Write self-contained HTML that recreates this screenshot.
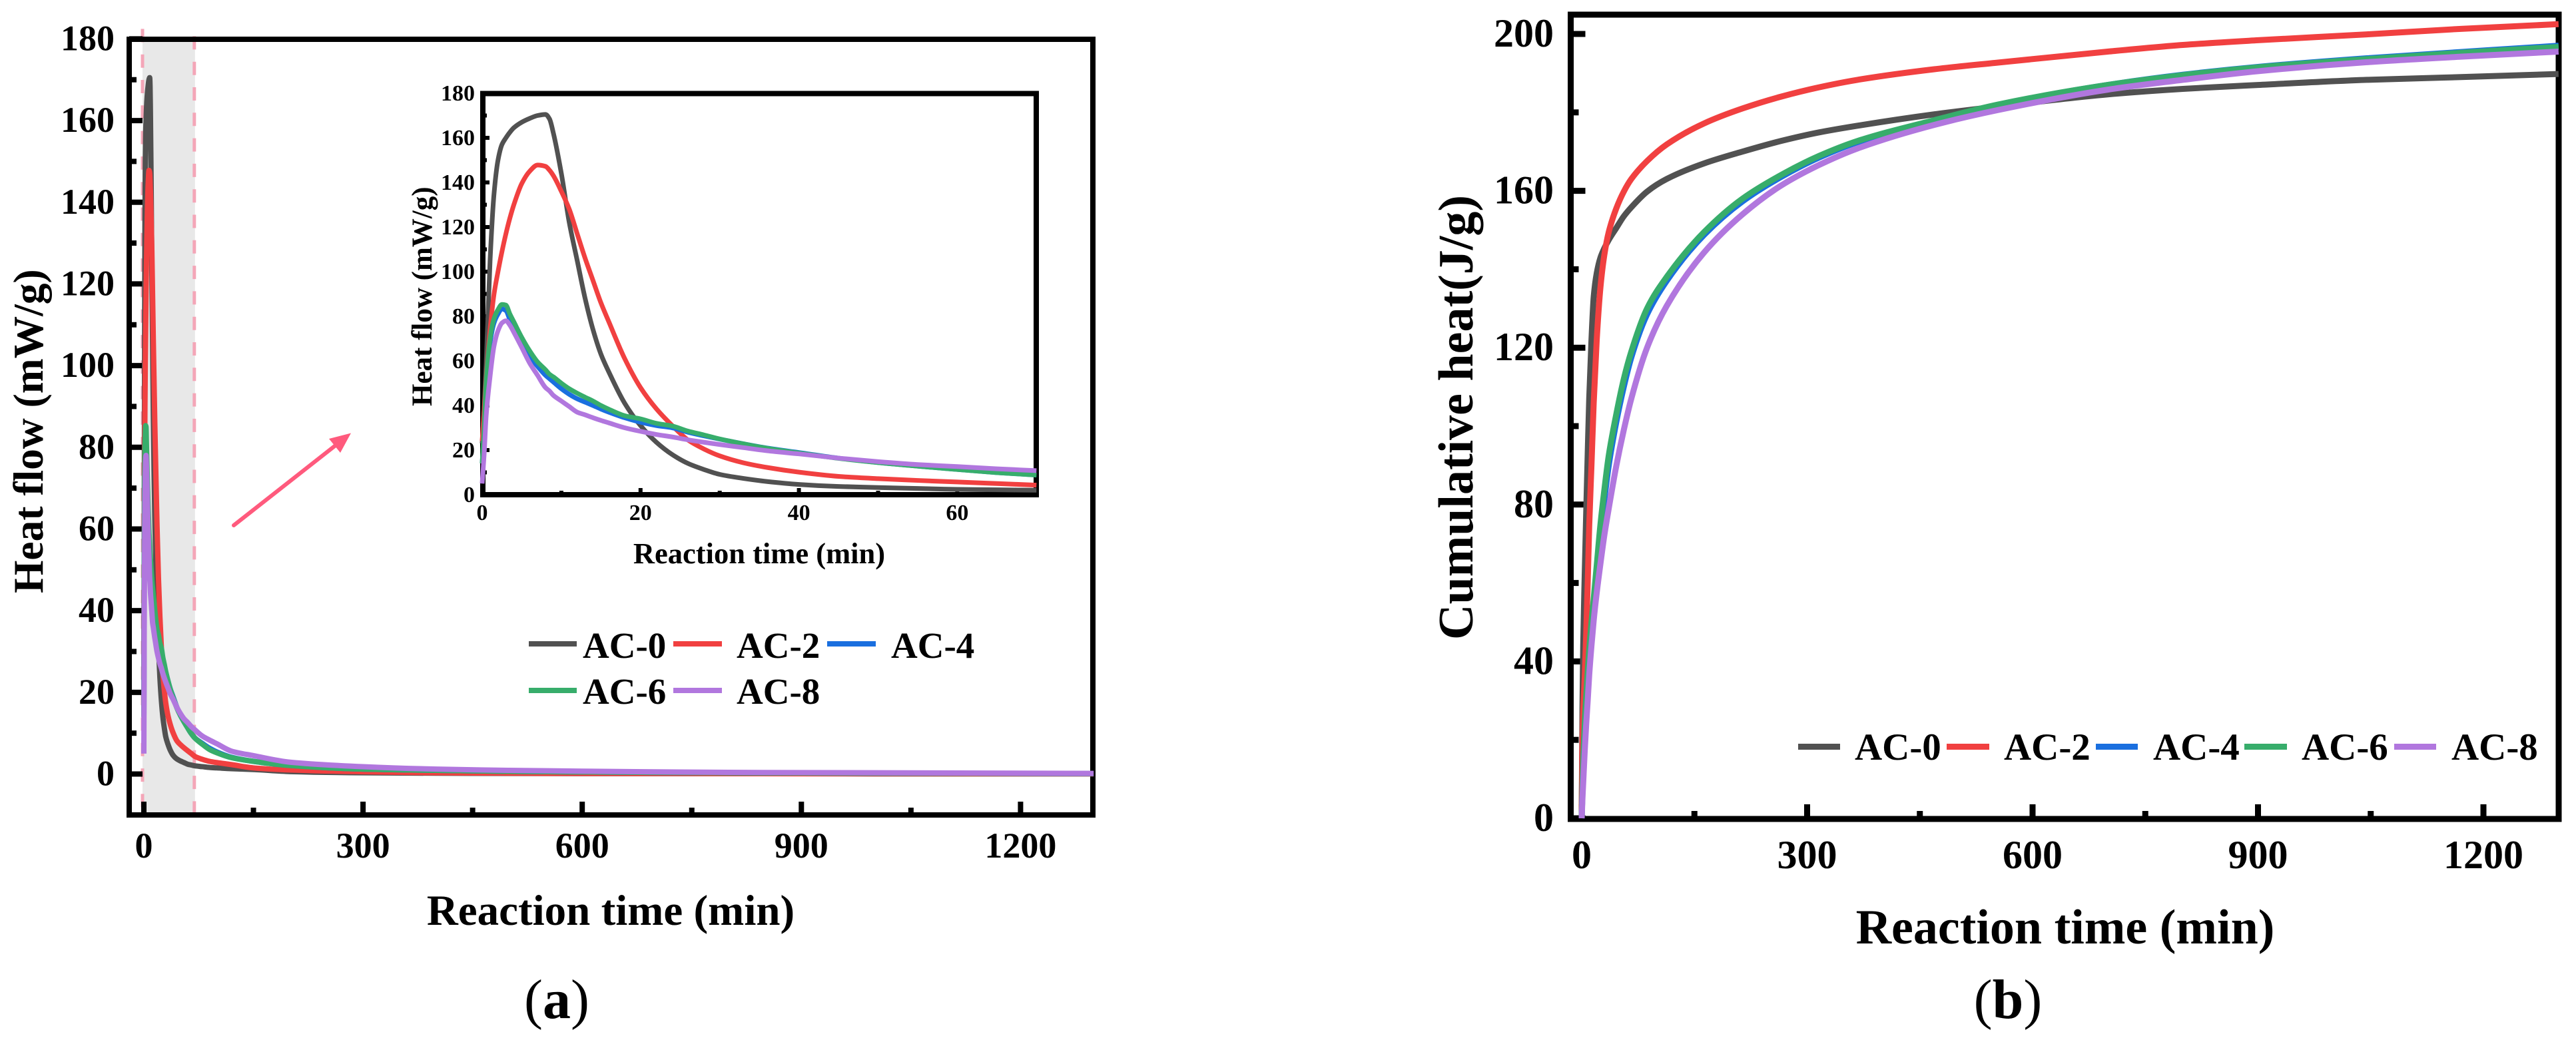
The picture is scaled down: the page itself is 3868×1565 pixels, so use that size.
<!DOCTYPE html>
<html lang="en">
<head>
<meta charset="utf-8">
<title>Heat flow and cumulative heat of AC samples</title>
<style>
html,body{margin:0;padding:0;background:#fff;}
svg{display:block;}
text{font-family:"Liberation Serif","Times New Roman",serif;font-weight:bold;fill:#000;}
</style>
</head>
<body>
<svg id="figure" xmlns="http://www.w3.org/2000/svg" width="3868" height="1565" viewBox="0 0 3868 1565">
  <rect x="0" y="0" width="3868" height="1565" fill="#fff"/>
  <g id="panel-a"></g>
  <g id="panel-inset"></g>
  <g id="panel-b"></g>

  <text x="917" y="1389" font-size="65" text-anchor="middle">Reaction time (min)</text>
  <text transform="translate(64,891) rotate(-90)" font-size="63.5">Heat flow (mW/g)</text>
  <text x="1140" y="846" font-size="44.5" text-anchor="middle">Reaction time (min)</text>
  <text transform="translate(648,610) rotate(-90)" font-size="43">Heat flow (mW/g)</text>
  <text x="3101" y="1417" font-size="74" text-anchor="middle">Reaction time (min)</text>
  <text transform="translate(2211,961) rotate(-90)" font-size="74">Cumulative heat(J/g)</text>

  <g>
    <line x1="351" y1="789" x2="505" y2="668" stroke="#ff5a7d" stroke-width="6" stroke-linecap="round"/>
    <polygon points="527,650.5 494,659 511,680" fill="#ff5a7d"/>
  </g>

  <g>
    <g><rect x="794" y="963" width="72" height="8" fill="#515151"/><text x="875" y="988" font-size="55">AC-0</text></g>
    <g><rect x="1011" y="963" width="73" height="8" fill="#F14040"/><text x="1106" y="988" font-size="55">AC-2</text></g>
    <g><rect x="1242" y="963" width="73" height="8" fill="#1A6FDF"/><text x="1338" y="988" font-size="55">AC-4</text></g>
    <g><rect x="794" y="1033" width="72" height="8" fill="#37AD6B"/><text x="875" y="1057" font-size="55">AC-6</text></g>
    <g><rect x="1011" y="1033" width="73" height="8" fill="#B177DE"/><text x="1106" y="1057" font-size="55">AC-8</text></g>
  </g>

  <g>
    <g><rect x="2700" y="1117" width="63" height="9" fill="#515151"/><text x="2785" y="1141" font-size="57">AC-0</text></g>
    <g><rect x="2923" y="1117" width="64" height="9" fill="#F14040"/><text x="3009" y="1141" font-size="57">AC-2</text></g>
    <g><rect x="3147" y="1117" width="63" height="9" fill="#1A6FDF"/><text x="3233" y="1141" font-size="57">AC-4</text></g>
    <g><rect x="3370" y="1117" width="64" height="9" fill="#37AD6B"/><text x="3456" y="1141" font-size="57">AC-6</text></g>
    <g><rect x="3595" y="1117" width="63" height="9" fill="#B177DE"/><text x="3681" y="1141" font-size="57">AC-8</text></g>
  </g>

  <text x="836" y="1529" font-size="84" text-anchor="middle" style="font-weight:normal">(<tspan style="font-weight:bold">a</tspan>)</text>
  <text x="3015" y="1529" font-size="84" text-anchor="middle" style="font-weight:normal">(<tspan style="font-weight:bold">b</tspan>)</text>
</svg>

<script>
const seriesNames = ['AC-0', 'AC-2', 'AC-4', 'AC-6', 'AC-8'];
const seriesColors = ['#515151', '#F14040', '#1A6FDF', '#37AD6B', '#B177DE'];

const flowTime = [0,.25,.5,1,1.5,2,2.5,3,3.5,4,5,6,7,8,8.5,9,10,11,12,13,14,15,16,18,20,22,24,26,28,30,33,36,40,45,50,55,60,65,70,80,90,100,120,150,200,300,400,500,600,800,1000,1300];
const flowAC0 = [23,38,58,105,135,150,157,160,162.5,164.5,167,168.7,170,170.5,168.5,162,144,122,105,88,74,63,55,41,31,23.5,18,14,11.3,9.1,7.3,5.9,4.6,3.7,3.2,2.8,2.4,2.2,2,1.8,1.6,1.5,1.3,1.1,.6,.3,.2,.15,.1,.1,.05,.05];
const flowAC2 = [24,38,52,74,90,100,109,117,124,130,139.5,145,147.8,147.2,145.5,143,136,128,117,106,96,86,77.5,61,48,38.5,31,24.5,20.5,17.4,14.3,12.2,10.1,8.2,7.2,6.4,5.7,5,4.3,3.6,3.1,2.8,2.3,1.5,1,.55,.3,.2,.15,.1,.05,.05];
const flowAC4 = [14,29,48,68,77,81,83.3,82.5,78.5,75,68,62,57.5,53.5,52,50.5,47.5,45,43,41.5,40,38.4,37,34.5,32.5,31,30,28,26.4,24.9,22.8,20.9,18.9,16.4,14.4,12.8,11.3,9.9,8.8,7.5,6.3,5.4,4.1,3.1,2.1,1.2,.9,.65,.5,.3,.2,.1];
const flowAC6 = [14,30,50,70,79,83,85.3,85,81,77.5,70.5,64.5,59.5,56,54,52.8,50,47.5,45.5,43.7,42,40,38.3,35.4,34,32,30.8,28.5,26.8,25,22.8,20.8,18.7,16.3,14.4,12.8,11.3,9.9,8.8,7.3,6,5.2,4,3.1,2.1,1.2,.9,.65,.5,.3,.2,.1];
const flowAC8 = [5,18,35,53,66.7,73.5,77,78,76,72.8,66,59,53.5,48,46.5,44.5,42,39.5,37,35.8,34.5,33.3,32.2,30,28.4,27,25.9,24.6,23.5,22.5,21.1,19.7,18.3,16.4,14.8,13.5,12.6,11.6,10.8,9.3,8.3,7.4,5.6,4.5,2.9,1.8,1.2,.9,.7,.4,.3,.15];

const cumTime = [0,1,2,4,6,8,10,13,16,20,25,30,36,46,56,66,87,113,163,214,265,316,367,469,554,700,800,900,1045,1170,1300];
const cumAC0 = [0,28,44,62,78,93,107,122,133,139,143,145.3,147.5,150.5,153.5,155.8,159.8,163,167,170,172.7,174.9,176.6,179.5,181.5,184.6,186,187,188.3,189,189.8];
const cumAC2 = [0,20,27,36,47,60,74.5,90,106,122,135.5,143.5,149.5,155.5,159.8,163,167.6,171.8,177.2,181,184,186.4,188.3,191,192.7,195.5,197.2,198.4,199.9,201.3,202.5];
const cumAC4 = [0,7,14,23,30,36,41.5,48,54,62,72.5,81,90,101,110,117.5,128.5,137,148.8,157.3,163.5,168.5,172.4,177.8,181.9,187,189.6,191.6,193.8,195.4,197];
const cumAC6 = [0,7,14,24,31,37.5,43,50,56,64.5,75,83.5,92.5,103,112,119,130,138,149.5,158,164,168.9,172.7,178,182,187,189.5,191.5,193.6,195.2,196.7];
const cumAC8 = [0,5,9,17,24,30,36.5,44,50.5,57.5,65,72,79,89.8,99,107,120,130.6,144.3,154,161.3,166.6,170.8,176.8,180.6,185.8,188.3,190.5,192.8,194.2,195.5];

const flowTicksY = [0,20,40,60,80,100,120,140,160,180];
const flowMinorY = [10,30,50,70,90,110,130,150,170];
const timeTicksX = [0,300,600,900,1200];
const timeMinorX = [150,450,750,1050];
const insetTicksX = [0,20,40,60];
const insetMinorX = [10,30,50];
const cumTicksY = [0,40,80,120,160,200];
const cumMinorY = [20,60,100,140,180];
const highlightRange = [0,70];

const SVGNS = 'http://www.w3.org/2000/svg';
const flowSeries = [flowAC0, flowAC2, flowAC4, flowAC6, flowAC8];
const cumSeries = [cumAC0, cumAC2, cumAC4, cumAC6, cumAC8];

function scale(d0, d1, r0, r1) {
  return function (v) { return r0 + (v - d0) * (r1 - r0) / (d1 - d0); };
}
function make(parent, tag, name, props) {
  const el = document.createElementNS(SVGNS, tag);
  
  
  for (const k in props) { el.setAttribute(k, props[k]); }
  parent.appendChild(el);
  return el;
}
function smoothPath(px, py) {
  const n = px.length;
  const slopes = [];
  for (let i = 0; i < n - 1; i++) { slopes.push((py[i + 1] - py[i]) / (px[i + 1] - px[i])); }
  const m = [slopes[0]];
  for (let i = 1; i < n - 1; i++) {
    const a = slopes[i - 1], b = slopes[i];
    if (a * b <= 0) { m.push(0); continue; }
    const h0 = px[i] - px[i - 1], h1 = px[i + 1] - px[i];
    const w0 = 2 * h1 + h0, w1 = h1 + 2 * h0;
    m.push((w0 + w1) / (w0 / a + w1 / b));
  }
  m.push(slopes[n - 2]);
  let d = 'M' + px[0].toFixed(2) + ' ' + py[0].toFixed(2);
  for (let i = 0; i < n - 1; i++) {
    const h = (px[i + 1] - px[i]) / 3;
    d += 'C' + (px[i] + h).toFixed(2) + ' ' + (py[i] + m[i] * h).toFixed(2) + ' ' +
      (px[i + 1] - h).toFixed(2) + ' ' + (py[i + 1] - m[i + 1] * h).toFixed(2) + ' ' +
      px[i + 1].toFixed(2) + ' ' + py[i + 1].toFixed(2);
  }
  return d;
}
function drawFrame(g, f, sw) {
  make(g, 'rect', 'plot-frame', { x: f.l, y: f.t, width: f.r - f.l, height: f.b - f.t, fill: 'none', stroke: '#000', 'stroke-width': sw });
}
function drawAxes(g, f, o, xs, ys) {
  o.xTicks.forEach(function (t) {
    make(g, 'line', 'x-tick-' + t, { x1: xs(t), x2: xs(t), y1: f.b, y2: f.b - o.major, stroke: '#000', 'stroke-width': o.tw });
    const lab = make(g, 'text', 'x-tick-label-' + t, { x: xs(t), y: o.xBase, 'text-anchor': 'middle', 'font-size': o.fs });
    lab.textContent = t;
  });
  o.xMinor.forEach(function (t) {
    make(g, 'line', 'x-minor-tick-' + t, { x1: xs(t), x2: xs(t), y1: f.b, y2: f.b - o.minor, stroke: '#000', 'stroke-width': o.tw });
  });
  o.yTicks.forEach(function (v) {
    make(g, 'line', 'y-tick-' + v, { x1: f.l, x2: f.l + o.major, y1: ys(v), y2: ys(v), stroke: '#000', 'stroke-width': o.tw });
    const lab = make(g, 'text', 'y-tick-label-' + v, { x: o.yEnd, y: ys(v) + o.yOff, 'text-anchor': 'end', 'font-size': o.fs });
    lab.textContent = v;
  });
  o.yMinor.forEach(function (v) {
    make(g, 'line', 'y-minor-tick-' + v, { x1: f.l, x2: f.l + o.minor, y1: ys(v), y2: ys(v), stroke: '#000', 'stroke-width': o.tw });
  });
}
function drawCurves(g, times, series, xs, ys, sw, tMax) {
  series.forEach(function (vals, i) {
    const px = [], py = [];
    times.forEach(function (t, j) {
      if (t <= tMax) { px.push(xs(t)); py.push(ys(vals[j])); }
    });
    make(g, 'path', 'series-' + seriesNames[i].toLowerCase(), {
      d: smoothPath(px, py), fill: 'none', stroke: seriesColors[i], 'stroke-width': sw, 'stroke-linejoin': 'round'
    });
  });
}

/* panel (a) */
(function () {
  const g = document.getElementById('panel-a');
  const f = { l: 194, r: 1641, t: 59, b: 1224 };
  const xs = scale(0, 1200, 216, 1532.4);
  const ys = scale(0, 180, 1162.5, 58.4);
  make(g, 'rect', 'highlight-band', { x: xs(highlightRange[0]) - 2, y: f.t, width: xs(highlightRange[1]) - xs(highlightRange[0]) + 2, height: f.b - f.t, fill: '#e8e8e8' });
  make(g, 'line', 'highlight-start-line', { x1: xs(highlightRange[0]) - 2, x2: xs(highlightRange[0]) - 2, y1: 43.4, y2: f.b, stroke: '#f4a6b8', 'stroke-width': 5, 'stroke-dasharray': '20 18.3' });
  make(g, 'line', 'highlight-end-line', { x1: xs(highlightRange[1]) - 1, x2: xs(highlightRange[1]) - 1, y1: 54.4, y2: f.b, stroke: '#f4a6b8', 'stroke-width': 5, 'stroke-dasharray': '20 18.3' });
  drawFrame(g, f, 8);
  drawAxes(g, f, { xTicks: timeTicksX, xMinor: timeMinorX, yTicks: flowTicksY, yMinor: flowMinorY, major: 20, minor: 11, tw: 8, fs: 54, xBase: 1288, yEnd: 172, yOff: 17 }, xs, ys);
  drawCurves(g, flowTime, flowSeries, xs, ys, 8, 1300);
})();

/* inset */
(function () {
  const g = document.getElementById('panel-inset');
  const f = { l: 725, r: 1556, t: 140.5, b: 743 };
  const xs = scale(0, 60, 724, 1437.4);
  const ys = scale(0, 180, 743, 140);
  drawFrame(g, f, 8);
  drawAxes(g, f, { xTicks: insetTicksX, xMinor: insetMinorX, yTicks: flowTicksY, yMinor: flowMinorY, major: 10, minor: 6, tw: 6, fs: 34, xBase: 781, yEnd: 713, yOff: 11 }, xs, ys);
  drawCurves(g, flowTime, flowSeries, xs, ys, 7, 70);
})();

/* panel (b) */
(function () {
  const g = document.getElementById('panel-b');
  const f = { l: 2358.5, r: 3842, t: 22, b: 1230 };
  const xs = scale(0, 1200, 2375, 3729);
  const ys = scale(0, 200, 1229, 51);
  drawFrame(g, f, 9);
  drawAxes(g, f, { xTicks: timeTicksX, xMinor: timeMinorX, yTicks: cumTicksY, yMinor: cumMinorY, major: 22, minor: 12, tw: 9, fs: 60, xBase: 1304, yEnd: 2333, yOff: 19 }, xs, ys);
  drawCurves(g, cumTime, cumSeries, xs, ys, 9, 1300);
})();
</script>
</body>
</html>
